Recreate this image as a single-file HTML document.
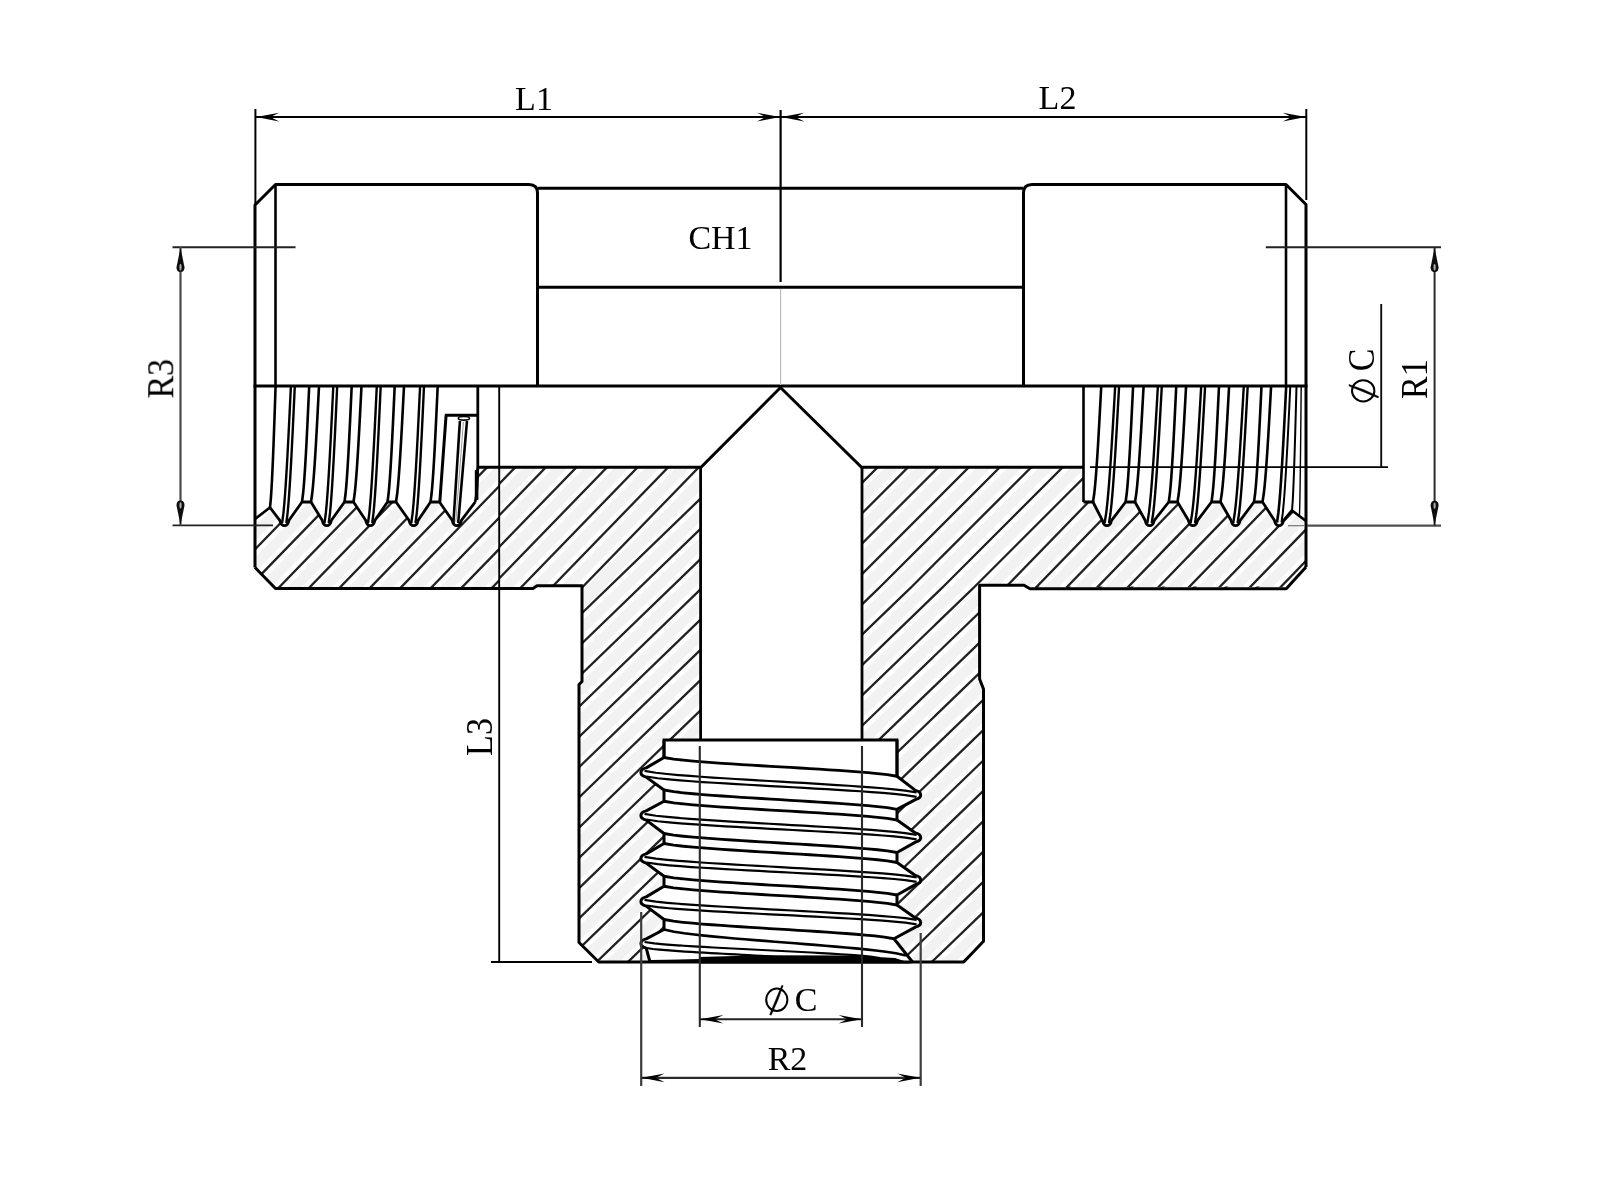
<!DOCTYPE html>
<html><head><meta charset="utf-8"><title>Tee fitting drawing</title>
<style>html,body{margin:0;padding:0;background:#fff;}body{width:1600px;height:1200px;overflow:hidden;font-family:"Liberation Serif",serif;}svg{display:block;}</style>
</head><body>
<svg width="1600" height="1200" viewBox="0 0 1600 1200">
<rect width="1600" height="1200" fill="#fff"/>
<defs><filter id="soft" x="0" y="0" width="1600" height="1200" filterUnits="userSpaceOnUse"><feGaussianBlur stdDeviation="0.7"/></filter></defs>
<g filter="url(#soft)">
<defs>
<clipPath id="cA"><path d="M255,519 L270,507.5 L279.8,520.3 Q281.1,525.6 284.4,525.6 Q287.7,525.6 289,520.3 L302,502 L311,502 L322.2,520.3 Q323.5,525.6 326.8,525.6 Q330.1,525.6 331.4,520.3 L344.5,502 L353.5,502 L365.7,520.3 Q367,525.6 370.3,525.6 Q373.6,525.6 374.9,520.3 L387.5,502 L396,502 L409,520.3 Q410.3,525.6 413.6,525.6 Q416.9,525.6 418.2,520.3 L430.5,502 L439.5,502 L452.2,520.3 Q453.5,525.6 456.8,525.6 Q460.1,525.6 461.4,520.3 L475.2,502 L477.4,490 L477.8,467.5 L499,467.5 L499,588.5 L275.5,588.5 L255,567.5 Z"/></clipPath>
<clipPath id="cB"><path d="M499,467.5 L701,467.5 L700.5,740 L664,740 L664,757.5 L646.2,767.9 Q640.9,769.2 640.9,772.5 Q640.9,775.8 646.2,777.1 L664,790 L664,801.25 L646.2,810.9 Q640.9,812.2 640.9,815.5 Q640.9,818.8 646.2,820.1 L664,833.5 L664,843.5 L646.2,853.9 Q640.9,855.2 640.9,858.5 Q640.9,861.8 646.2,863.1 L664,876.25 L664,886.25 L646.2,896.9 Q640.9,898.2 640.9,901.5 Q640.9,904.8 646.2,906.1 L664,919.5 L664,929.5 L646.2,938.9 Q640.9,940.2 640.9,943.5 Q640.9,946.8 646.2,948.1 L650,962 L598.75,962 L579,942.5 L579,684 L582,681.5 L582,585.5 L537,585.5 L533,588.5 L499,588.5 Z"/></clipPath>
<clipPath id="cC"><path d="M861.5,467.5 L1083.5,467.5 L1083.5,502 L1093,502 L1102.4,520.3 Q1103.7,525.6 1107,525.6 Q1110.3,525.6 1111.6,520.3 L1125.6,502 L1135,502 L1145.1,520.3 Q1146.4,525.6 1149.7,525.6 Q1153,525.6 1154.3,520.3 L1168.75,502 L1177.5,502 L1188.4,520.3 Q1189.7,525.6 1193,525.6 Q1196.3,525.6 1197.6,520.3 L1211.5,502 L1220.5,502 L1231,520.3 Q1232.3,525.6 1235.6,525.6 Q1238.9,525.6 1240.2,520.3 L1254,502 L1262.5,502 L1274.4,520.3 Q1275.7,525.6 1279,525.6 Q1282.3,525.6 1283.6,520.3 L1292,510.5 L1306,521 L1306,567 L1286.25,588.75 L1030,588.75 L1024,585 L979.4,585 L979.4,678 L983.5,689 L983.5,941.25 L963.75,962 L912.5,962 L894,938.75 L915.4,927.1 Q920.7,925.8 920.7,922.5 Q920.7,919.2 915.4,917.9 L897,905 L897,895 L915.4,884.6 Q920.7,883.3 920.7,880 Q920.7,876.7 915.4,875.4 L897,862.5 L897,852.5 L915.4,842.1 Q920.7,840.8 920.7,837.5 Q920.7,834.2 915.4,832.9 L897,820 L897,809.4 L915.4,799.6 Q920.7,798.3 920.7,795 Q920.7,791.7 915.4,790.4 L897,776.25 L897,740 L862,740 Z"/></clipPath>
</defs>
<defs><clipPath id="karm"><rect x="0" y="0" width="1600" height="587.2"/></clipPath><clipPath id="kstem"><rect x="0" y="586.4" width="1600" height="620"/></clipPath></defs>
<g clip-path="url(#cA)">
<g stroke="#f2f2f2" stroke-width="10.46">
<line x1="-513.88" y1="1200" x2="651.17" y2="0"/>
<line x1="-483.4" y1="1200" x2="681.65" y2="0"/>
<line x1="-452.91" y1="1200" x2="712.14" y2="0"/>
<line x1="-422.43" y1="1200" x2="742.62" y2="0"/>
<line x1="-391.94" y1="1200" x2="773.11" y2="0"/>
<line x1="-361.46" y1="1200" x2="803.59" y2="0"/>
<line x1="-330.97" y1="1200" x2="834.08" y2="0"/>
<line x1="-300.49" y1="1200" x2="864.56" y2="0"/>
<line x1="-270" y1="1200" x2="895.05" y2="0"/>
<line x1="-239.51" y1="1200" x2="925.53" y2="0"/>
<line x1="-209.03" y1="1200" x2="956.02" y2="0"/>
<line x1="-178.54" y1="1200" x2="986.5" y2="0"/>
<line x1="-148.06" y1="1200" x2="1016.99" y2="0"/>
<line x1="-117.57" y1="1200" x2="1047.48" y2="0"/>
<line x1="-87.09" y1="1200" x2="1077.96" y2="0"/>
<line x1="-56.6" y1="1200" x2="1108.45" y2="0"/>
<line x1="-26.12" y1="1200" x2="1138.93" y2="0"/>
<line x1="4.37" y1="1200" x2="1169.42" y2="0"/>
<line x1="34.85" y1="1200" x2="1199.9" y2="0"/>
<line x1="65.34" y1="1200" x2="1230.39" y2="0"/>
</g>
</g>
<g clip-path="url(#cB)">
<g stroke="#f2f2f2" stroke-width="10.46">
<line x1="-303.16" y1="1200" x2="861.89" y2="0"/>
<line x1="-272.57" y1="1200" x2="892.48" y2="0"/>
<line x1="-241.99" y1="1200" x2="923.06" y2="0"/>
<line x1="-211.41" y1="1200" x2="953.64" y2="0"/>
<line x1="-180.83" y1="1200" x2="984.22" y2="0"/>
<line x1="-150.24" y1="1200" x2="1014.81" y2="0"/>
<line x1="-119.66" y1="1200" x2="1045.39" y2="0"/>
<line x1="-89.08" y1="1200" x2="1075.97" y2="0"/>
<line x1="-58.5" y1="1200" x2="1106.55" y2="0"/>
<line x1="-27.91" y1="1200" x2="1137.14" y2="0"/>
<line x1="2.67" y1="1200" x2="1167.72" y2="0"/>
</g>
</g>
<g clip-path="url(#cB)">
<g stroke="#f2f2f2" stroke-width="10.46">
<line x1="-41.23" y1="1200" x2="1201.01" y2="0"/>
<line x1="-9.91" y1="1200" x2="1232.32" y2="0"/>
<line x1="21.4" y1="1200" x2="1263.64" y2="0"/>
<line x1="52.72" y1="1200" x2="1294.95" y2="0"/>
<line x1="84.03" y1="1200" x2="1326.27" y2="0"/>
<line x1="115.35" y1="1200" x2="1357.58" y2="0"/>
<line x1="146.66" y1="1200" x2="1388.9" y2="0"/>
<line x1="177.98" y1="1200" x2="1420.21" y2="0"/>
<line x1="209.29" y1="1200" x2="1451.53" y2="0"/>
<line x1="240.61" y1="1200" x2="1482.84" y2="0"/>
<line x1="271.92" y1="1200" x2="1514.16" y2="0"/>
<line x1="303.23" y1="1200" x2="1545.47" y2="0"/>
<line x1="334.55" y1="1200" x2="1576.79" y2="0"/>
<line x1="365.86" y1="1200" x2="1608.1" y2="0"/>
<line x1="397.18" y1="1200" x2="1639.42" y2="0"/>
<line x1="428.49" y1="1200" x2="1670.73" y2="0"/>
<line x1="459.81" y1="1200" x2="1702.04" y2="0"/>
<line x1="491.12" y1="1200" x2="1733.36" y2="0"/>
<line x1="522.44" y1="1200" x2="1764.67" y2="0"/>
<line x1="553.75" y1="1200" x2="1795.99" y2="0"/>
<line x1="585.07" y1="1200" x2="1827.3" y2="0"/>
<line x1="616.38" y1="1200" x2="1858.62" y2="0"/>
<line x1="647.7" y1="1200" x2="1889.93" y2="0"/>
<line x1="679.01" y1="1200" x2="1921.25" y2="0"/>
<line x1="710.33" y1="1200" x2="1952.56" y2="0"/>
<line x1="741.64" y1="1200" x2="1983.88" y2="0"/>
<line x1="772.96" y1="1200" x2="2015.19" y2="0"/>
<line x1="804.27" y1="1200" x2="2046.51" y2="0"/>
<line x1="835.58" y1="1200" x2="2077.82" y2="0"/>
<line x1="866.9" y1="1200" x2="2109.14" y2="0"/>
<line x1="898.21" y1="1200" x2="2140.45" y2="0"/>
<line x1="929.53" y1="1200" x2="2171.77" y2="0"/>
<line x1="960.84" y1="1200" x2="2203.08" y2="0"/>
<line x1="992.16" y1="1200" x2="2234.39" y2="0"/>
<line x1="1023.47" y1="1200" x2="2265.71" y2="0"/>
<line x1="1054.79" y1="1200" x2="2297.02" y2="0"/>
<line x1="1086.1" y1="1200" x2="2328.34" y2="0"/>
<line x1="1117.42" y1="1200" x2="2359.65" y2="0"/>
</g>
</g>
<g clip-path="url(#cC)" stroke="#f2f2f2" stroke-width="10.46" fill="none">
<polyline points="662.5,667.31 1029.81,300"/>
<polyline points="662.5,697.66 1060.16,300"/>
<polyline points="662.5,728.01 1090.51,300"/>
<polyline points="662.5,758.36 1120.86,300"/>
<polyline points="229.04,1200 865.31,586 1151.31,300"/>
<polyline points="260.49,1200 896.76,586 1182.76,300"/>
<polyline points="291.94,1200 928.21,586 1214.21,300"/>
<polyline points="323.39,1200 959.66,586 1245.66,300"/>
</g>
<g clip-path="url(#cC)">
<g clip-path="url(#kstem)">
<g stroke="#f2f2f2" stroke-width="10.46">
<line x1="354.84" y1="1200" x2="1598.37" y2="0"/>
<line x1="386.3" y1="1200" x2="1629.82" y2="0"/>
<line x1="417.75" y1="1200" x2="1661.27" y2="0"/>
<line x1="449.2" y1="1200" x2="1692.72" y2="0"/>
<line x1="480.65" y1="1200" x2="1724.17" y2="0"/>
<line x1="512.1" y1="1200" x2="1755.62" y2="0"/>
<line x1="543.55" y1="1200" x2="1787.07" y2="0"/>
<line x1="575" y1="1200" x2="1818.52" y2="0"/>
<line x1="606.45" y1="1200" x2="1849.97" y2="0"/>
<line x1="637.9" y1="1200" x2="1881.42" y2="0"/>
<line x1="669.35" y1="1200" x2="1912.88" y2="0"/>
<line x1="700.8" y1="1200" x2="1944.33" y2="0"/>
<line x1="732.25" y1="1200" x2="1975.78" y2="0"/>
<line x1="763.7" y1="1200" x2="2007.23" y2="0"/>
<line x1="795.16" y1="1200" x2="2038.68" y2="0"/>
<line x1="826.61" y1="1200" x2="2070.13" y2="0"/>
<line x1="858.06" y1="1200" x2="2101.58" y2="0"/>
<line x1="889.51" y1="1200" x2="2133.03" y2="0"/>
<line x1="920.96" y1="1200" x2="2164.48" y2="0"/>
<line x1="952.41" y1="1200" x2="2195.93" y2="0"/>
<line x1="983.86" y1="1200" x2="2227.38" y2="0"/>
<line x1="1015.31" y1="1200" x2="2258.83" y2="0"/>
<line x1="1046.76" y1="1200" x2="2290.28" y2="0"/>
<line x1="1078.21" y1="1200" x2="2321.74" y2="0"/>
<line x1="1109.66" y1="1200" x2="2353.19" y2="0"/>
<line x1="1141.11" y1="1200" x2="2384.64" y2="0"/>
<line x1="1172.56" y1="1200" x2="2416.09" y2="0"/>
<line x1="1204.02" y1="1200" x2="2447.54" y2="0"/>
<line x1="1235.47" y1="1200" x2="2478.99" y2="0"/>
<line x1="1266.92" y1="1200" x2="2510.44" y2="0"/>
<line x1="1298.37" y1="1200" x2="2541.89" y2="0"/>
<line x1="1329.82" y1="1200" x2="2573.34" y2="0"/>
<line x1="1361.27" y1="1200" x2="2604.79" y2="0"/>
<line x1="1392.72" y1="1200" x2="2636.24" y2="0"/>
</g>
</g>
</g>
<g clip-path="url(#cC)">
<g clip-path="url(#karm)">
<g stroke="#f2f2f2" stroke-width="10.46">
<line x1="395.51" y1="1200" x2="1560.56" y2="0"/>
<line x1="426.04" y1="1200" x2="1591.09" y2="0"/>
<line x1="456.58" y1="1200" x2="1621.63" y2="0"/>
<line x1="487.11" y1="1200" x2="1652.16" y2="0"/>
<line x1="517.65" y1="1200" x2="1682.69" y2="0"/>
<line x1="548.18" y1="1200" x2="1713.23" y2="0"/>
<line x1="578.71" y1="1200" x2="1743.76" y2="0"/>
<line x1="609.25" y1="1200" x2="1774.3" y2="0"/>
<line x1="639.78" y1="1200" x2="1804.83" y2="0"/>
<line x1="670.32" y1="1200" x2="1835.36" y2="0"/>
<line x1="700.85" y1="1200" x2="1865.9" y2="0"/>
<line x1="731.38" y1="1200" x2="1896.43" y2="0"/>
<line x1="761.92" y1="1200" x2="1926.97" y2="0"/>
<line x1="792.45" y1="1200" x2="1957.5" y2="0"/>
<line x1="822.99" y1="1200" x2="1988.03" y2="0"/>
<line x1="853.52" y1="1200" x2="2018.57" y2="0"/>
</g>
</g>
</g>
<g clip-path="url(#cC)"><g clip-path="url(#kstem)" stroke="#f2f2f2" stroke-width="10.46"><polyline fill="none" points="354.84,1200 991.11,586 1277.11,300"/></g></g>
<g clip-path="url(#cA)">
<g stroke="#202020" stroke-width="2.3">
<line x1="-498.64" y1="1200" x2="666.41" y2="0"/>
<line x1="-468.16" y1="1200" x2="696.89" y2="0"/>
<line x1="-437.67" y1="1200" x2="727.38" y2="0"/>
<line x1="-407.18" y1="1200" x2="757.86" y2="0"/>
<line x1="-376.7" y1="1200" x2="788.35" y2="0"/>
<line x1="-346.21" y1="1200" x2="818.83" y2="0"/>
<line x1="-315.73" y1="1200" x2="849.32" y2="0"/>
<line x1="-285.24" y1="1200" x2="879.81" y2="0"/>
<line x1="-254.76" y1="1200" x2="910.29" y2="0"/>
<line x1="-224.27" y1="1200" x2="940.78" y2="0"/>
<line x1="-193.79" y1="1200" x2="971.26" y2="0"/>
<line x1="-163.3" y1="1200" x2="1001.75" y2="0"/>
<line x1="-132.82" y1="1200" x2="1032.23" y2="0"/>
<line x1="-102.33" y1="1200" x2="1062.72" y2="0"/>
<line x1="-71.84" y1="1200" x2="1093.2" y2="0"/>
<line x1="-41.36" y1="1200" x2="1123.69" y2="0"/>
<line x1="-10.87" y1="1200" x2="1154.17" y2="0"/>
<line x1="19.61" y1="1200" x2="1184.66" y2="0"/>
<line x1="50.1" y1="1200" x2="1215.15" y2="0"/>
</g>
</g>
<g clip-path="url(#cB)">
<g stroke="#202020" stroke-width="2.3">
<line x1="-287.86" y1="1200" x2="877.18" y2="0"/>
<line x1="-257.28" y1="1200" x2="907.77" y2="0"/>
<line x1="-226.7" y1="1200" x2="938.35" y2="0"/>
<line x1="-196.12" y1="1200" x2="968.93" y2="0"/>
<line x1="-165.53" y1="1200" x2="999.51" y2="0"/>
<line x1="-134.95" y1="1200" x2="1030.1" y2="0"/>
<line x1="-104.37" y1="1200" x2="1060.68" y2="0"/>
<line x1="-73.79" y1="1200" x2="1091.26" y2="0"/>
<line x1="-43.2" y1="1200" x2="1121.84" y2="0"/>
<line x1="-12.62" y1="1200" x2="1152.43" y2="0"/>
</g>
</g>
<g clip-path="url(#cB)">
<g stroke="#202020" stroke-width="2.3">
<line x1="-25.57" y1="1200" x2="1216.67" y2="0"/>
<line x1="5.75" y1="1200" x2="1247.98" y2="0"/>
<line x1="37.06" y1="1200" x2="1279.3" y2="0"/>
<line x1="68.37" y1="1200" x2="1310.61" y2="0"/>
<line x1="99.69" y1="1200" x2="1341.93" y2="0"/>
<line x1="131" y1="1200" x2="1373.24" y2="0"/>
<line x1="162.32" y1="1200" x2="1404.55" y2="0"/>
<line x1="193.63" y1="1200" x2="1435.87" y2="0"/>
<line x1="224.95" y1="1200" x2="1467.18" y2="0"/>
<line x1="256.26" y1="1200" x2="1498.5" y2="0"/>
<line x1="287.58" y1="1200" x2="1529.81" y2="0"/>
<line x1="318.89" y1="1200" x2="1561.13" y2="0"/>
<line x1="350.21" y1="1200" x2="1592.44" y2="0"/>
<line x1="381.52" y1="1200" x2="1623.76" y2="0"/>
<line x1="412.84" y1="1200" x2="1655.07" y2="0"/>
<line x1="444.15" y1="1200" x2="1686.39" y2="0"/>
<line x1="475.47" y1="1200" x2="1717.7" y2="0"/>
<line x1="506.78" y1="1200" x2="1749.02" y2="0"/>
<line x1="538.1" y1="1200" x2="1780.33" y2="0"/>
<line x1="569.41" y1="1200" x2="1811.65" y2="0"/>
<line x1="600.72" y1="1200" x2="1842.96" y2="0"/>
<line x1="632.04" y1="1200" x2="1874.28" y2="0"/>
<line x1="663.35" y1="1200" x2="1905.59" y2="0"/>
<line x1="694.67" y1="1200" x2="1936.9" y2="0"/>
<line x1="725.98" y1="1200" x2="1968.22" y2="0"/>
<line x1="757.3" y1="1200" x2="1999.53" y2="0"/>
<line x1="788.61" y1="1200" x2="2030.85" y2="0"/>
<line x1="819.93" y1="1200" x2="2062.16" y2="0"/>
<line x1="851.24" y1="1200" x2="2093.48" y2="0"/>
<line x1="882.56" y1="1200" x2="2124.79" y2="0"/>
<line x1="913.87" y1="1200" x2="2156.11" y2="0"/>
<line x1="945.19" y1="1200" x2="2187.42" y2="0"/>
<line x1="976.5" y1="1200" x2="2218.74" y2="0"/>
<line x1="1007.82" y1="1200" x2="2250.05" y2="0"/>
<line x1="1039.13" y1="1200" x2="2281.37" y2="0"/>
<line x1="1070.45" y1="1200" x2="2312.68" y2="0"/>
<line x1="1101.76" y1="1200" x2="2344" y2="0"/>
</g>
</g>
<g clip-path="url(#cC)" stroke="#202020" stroke-width="2.3" fill="none">
<polyline points="662.5,682.49 1044.99,300"/>
<polyline points="662.5,712.84 1075.34,300"/>
<polyline points="662.5,743.19 1105.69,300"/>
<polyline points="662.5,773.54 1136.04,300"/>
<polyline points="244.77,1200 881.04,586 1167.04,300"/>
<polyline points="276.22,1200 912.49,586 1198.49,300"/>
<polyline points="307.67,1200 943.94,586 1229.94,300"/>
<polyline points="339.12,1200 975.39,586 1261.39,300"/>
</g>
<g clip-path="url(#cC)">
<g clip-path="url(#kstem)">
<g stroke="#202020" stroke-width="2.3">
<line x1="370.57" y1="1200" x2="1614.09" y2="0"/>
<line x1="402.02" y1="1200" x2="1645.54" y2="0"/>
<line x1="433.47" y1="1200" x2="1676.99" y2="0"/>
<line x1="464.92" y1="1200" x2="1708.45" y2="0"/>
<line x1="496.37" y1="1200" x2="1739.9" y2="0"/>
<line x1="527.82" y1="1200" x2="1771.35" y2="0"/>
<line x1="559.27" y1="1200" x2="1802.8" y2="0"/>
<line x1="590.73" y1="1200" x2="1834.25" y2="0"/>
<line x1="622.18" y1="1200" x2="1865.7" y2="0"/>
<line x1="653.63" y1="1200" x2="1897.15" y2="0"/>
<line x1="685.08" y1="1200" x2="1928.6" y2="0"/>
<line x1="716.53" y1="1200" x2="1960.05" y2="0"/>
<line x1="747.98" y1="1200" x2="1991.5" y2="0"/>
<line x1="779.43" y1="1200" x2="2022.95" y2="0"/>
<line x1="810.88" y1="1200" x2="2054.4" y2="0"/>
<line x1="842.33" y1="1200" x2="2085.85" y2="0"/>
<line x1="873.78" y1="1200" x2="2117.31" y2="0"/>
<line x1="905.23" y1="1200" x2="2148.76" y2="0"/>
<line x1="936.68" y1="1200" x2="2180.21" y2="0"/>
<line x1="968.13" y1="1200" x2="2211.66" y2="0"/>
<line x1="999.59" y1="1200" x2="2243.11" y2="0"/>
<line x1="1031.04" y1="1200" x2="2274.56" y2="0"/>
<line x1="1062.49" y1="1200" x2="2306.01" y2="0"/>
<line x1="1093.94" y1="1200" x2="2337.46" y2="0"/>
<line x1="1125.39" y1="1200" x2="2368.91" y2="0"/>
<line x1="1156.84" y1="1200" x2="2400.36" y2="0"/>
<line x1="1188.29" y1="1200" x2="2431.81" y2="0"/>
<line x1="1219.74" y1="1200" x2="2463.26" y2="0"/>
<line x1="1251.19" y1="1200" x2="2494.72" y2="0"/>
<line x1="1282.64" y1="1200" x2="2526.17" y2="0"/>
<line x1="1314.09" y1="1200" x2="2557.62" y2="0"/>
<line x1="1345.54" y1="1200" x2="2589.07" y2="0"/>
<line x1="1376.99" y1="1200" x2="2620.52" y2="0"/>
</g>
</g>
</g>
<g clip-path="url(#cC)">
<g clip-path="url(#karm)">
<g stroke="#202020" stroke-width="2.3">
<line x1="410.78" y1="1200" x2="1575.83" y2="0"/>
<line x1="441.31" y1="1200" x2="1606.36" y2="0"/>
<line x1="471.84" y1="1200" x2="1636.89" y2="0"/>
<line x1="502.38" y1="1200" x2="1667.43" y2="0"/>
<line x1="532.91" y1="1200" x2="1697.96" y2="0"/>
<line x1="563.45" y1="1200" x2="1728.5" y2="0"/>
<line x1="593.98" y1="1200" x2="1759.03" y2="0"/>
<line x1="624.51" y1="1200" x2="1789.56" y2="0"/>
<line x1="655.05" y1="1200" x2="1820.1" y2="0"/>
<line x1="685.58" y1="1200" x2="1850.63" y2="0"/>
<line x1="716.12" y1="1200" x2="1881.17" y2="0"/>
<line x1="746.65" y1="1200" x2="1911.7" y2="0"/>
<line x1="777.18" y1="1200" x2="1942.23" y2="0"/>
<line x1="807.72" y1="1200" x2="1972.77" y2="0"/>
<line x1="838.25" y1="1200" x2="2003.3" y2="0"/>
</g>
</g>
</g>
<path d="M255,567.5 L255,205 L275.5,184.5 L529,184.5 Q537.5,184.5 537.5,193 L537.5,386" fill="none" stroke="#000" stroke-width="3" stroke-linejoin="round"/>
<path d="M1306,567 L1306,204.5 L1286,184.5 L1032,184.5 Q1023.5,184.5 1023.5,193 L1023.5,386" fill="none" stroke="#000" stroke-width="3" stroke-linejoin="round"/>
<line x1="275.5" y1="184.5" x2="275.5" y2="386" stroke="#000" stroke-width="2.6" />
<line x1="1286" y1="184.5" x2="1286" y2="386" stroke="#000" stroke-width="2.6" />
<line x1="537.5" y1="188.3" x2="1023.5" y2="188.3" stroke="#000" stroke-width="3" />
<line x1="537.5" y1="287.2" x2="1023.5" y2="287.2" stroke="#000" stroke-width="3" />
<line x1="253.5" y1="386" x2="1307.5" y2="386" stroke="#000" stroke-width="3" />
<polyline points="255,567.5 275.5,588.5 533,588.5 537,585.8 582,585.8 582,681.5 579,684.5 579,942.5 598.75,962 963.75,962 983.5,941.25 983.5,689 979.6,679 979.6,585.3 1024,585.3 1030,588.75 1286.25,588.75 1306,567" fill="none" stroke="#000" stroke-width="3" stroke-linejoin="round"/>
<polyline points="477.5,467.3 701,467.3 780.5,387.5 861.5,467.3 1083.5,467.3" fill="none" stroke="#000" stroke-width="3" stroke-linejoin="miter"/>
<line x1="700.6" y1="467.3" x2="700.6" y2="740" stroke="#000" stroke-width="2.8" />
<line x1="862" y1="467.3" x2="862" y2="740" stroke="#000" stroke-width="2.8" />
<polyline points="664,757.5 664,740 897,740 897,776.25" fill="none" stroke="#000" stroke-width="2.8" stroke-linejoin="miter"/>
<path d="M255,519 L270,507.5 L279.8,520.3 Q281.1,525.6 284.4,525.6 Q287.7,525.6 289,520.3 L302,502 L311,502 L322.2,520.3 Q323.5,525.6 326.8,525.6 Q330.1,525.6 331.4,520.3 L344.5,502 L353.5,502 L365.7,520.3 Q367,525.6 370.3,525.6 Q373.6,525.6 374.9,520.3 L387.5,502 L396,502 L409,520.3 Q410.3,525.6 413.6,525.6 Q416.9,525.6 418.2,520.3 L430.5,502 L439.5,502 L452.2,520.3 Q453.5,525.6 456.8,525.6 Q460.1,525.6 461.4,520.3 L475.2,502 " fill="none" stroke="#000" stroke-width="2.8" stroke-linejoin="round"/>
<polyline points="275.6,386 275.3,394.68 275.01,403.36 274.71,412.04 274.4,420.71 274.09,429.39 273.77,438.07 273.44,446.75 273.09,455.43 272.73,464.11 272.34,472.79 271.91,481.46 271.42,490.14 270.83,498.82 270,507.5" fill="none" stroke="#000" stroke-width="2.6" />
<polyline points="290.85,387 290.39,396.71 289.93,406.43 289.46,416.14 288.98,425.86 288.5,435.57 288,445.29 287.48,455 286.94,464.71 286.37,474.43 285.75,484.14 285.08,493.86 284.32,503.57 283.4,513.29 282.1,523" fill="none" stroke="#000" stroke-width="2.4" />
<polyline points="294.75,387 294.31,396.71 293.86,406.43 293.41,416.14 292.95,425.86 292.48,435.57 291.99,445.29 291.5,455 290.97,464.71 290.42,474.43 289.83,484.14 289.18,493.86 288.45,503.57 287.56,513.29 286.3,523" fill="none" stroke="#000" stroke-width="2.4" />
<polyline points="309.15,387 308.78,395.21 308.4,403.43 308.01,411.64 307.63,419.86 307.23,428.07 306.82,436.29 306.4,444.5 305.96,452.71 305.49,460.93 304.99,469.14 304.44,477.36 303.82,485.57 303.07,493.79 302,502" fill="none" stroke="#000" stroke-width="2.6" />
<polyline points="318.95,387 318.53,395.21 318.11,403.43 317.68,411.64 317.25,419.86 316.81,428.07 316.36,436.29 315.89,444.5 315.39,452.71 314.88,460.93 314.32,469.14 313.71,477.36 313.02,485.57 312.18,493.79 311,502" fill="none" stroke="#000" stroke-width="2.6" />
<polyline points="333.25,387 332.79,396.71 332.33,406.43 331.86,416.14 331.38,425.86 330.9,435.57 330.4,445.29 329.88,455 329.34,464.71 328.77,474.43 328.15,484.14 327.48,493.86 326.72,503.57 325.8,513.29 324.5,523" fill="none" stroke="#000" stroke-width="2.4" />
<polyline points="337.15,387 336.71,396.71 336.26,406.43 335.81,416.14 335.35,425.86 334.88,435.57 334.39,445.29 333.9,455 333.37,464.71 332.82,474.43 332.23,484.14 331.58,493.86 330.85,503.57 329.96,513.29 328.7,523" fill="none" stroke="#000" stroke-width="2.4" />
<polyline points="351.65,387 351.28,395.21 350.9,403.43 350.51,411.64 350.13,419.86 349.73,428.07 349.32,436.29 348.9,444.5 348.46,452.71 347.99,460.93 347.49,469.14 346.94,477.36 346.32,485.57 345.57,493.79 344.5,502" fill="none" stroke="#000" stroke-width="2.6" />
<polyline points="361.45,387 361.03,395.21 360.61,403.43 360.18,411.64 359.75,419.86 359.31,428.07 358.86,436.29 358.39,444.5 357.89,452.71 357.38,460.93 356.82,469.14 356.21,477.36 355.52,485.57 354.68,493.79 353.5,502" fill="none" stroke="#000" stroke-width="2.6" />
<polyline points="376.75,387 376.29,396.71 375.83,406.43 375.36,416.14 374.88,425.86 374.4,435.57 373.9,445.29 373.38,455 372.84,464.71 372.27,474.43 371.65,484.14 370.98,493.86 370.22,503.57 369.3,513.29 368,523" fill="none" stroke="#000" stroke-width="2.4" />
<polyline points="380.65,387 380.21,396.71 379.76,406.43 379.31,416.14 378.85,425.86 378.38,435.57 377.89,445.29 377.4,455 376.87,464.71 376.32,474.43 375.73,484.14 375.08,493.86 374.35,503.57 373.46,513.29 372.2,523" fill="none" stroke="#000" stroke-width="2.4" />
<polyline points="394.65,387 394.28,395.21 393.9,403.43 393.51,411.64 393.13,419.86 392.73,428.07 392.32,436.29 391.9,444.5 391.46,452.71 390.99,460.93 390.49,469.14 389.94,477.36 389.32,485.57 388.57,493.79 387.5,502" fill="none" stroke="#000" stroke-width="2.6" />
<polyline points="403.95,387 403.53,395.21 403.11,403.43 402.68,411.64 402.25,419.86 401.81,428.07 401.36,436.29 400.89,444.5 400.39,452.71 399.88,460.93 399.32,469.14 398.71,477.36 398.02,485.57 397.18,493.79 396,502" fill="none" stroke="#000" stroke-width="2.6" />
<polyline points="420.05,387 419.59,396.71 419.13,406.43 418.66,416.14 418.18,425.86 417.7,435.57 417.2,445.29 416.68,455 416.14,464.71 415.57,474.43 414.95,484.14 414.28,493.86 413.52,503.57 412.6,513.29 411.3,523" fill="none" stroke="#000" stroke-width="2.4" />
<polyline points="423.95,387 423.51,396.71 423.06,406.43 422.61,416.14 422.15,425.86 421.68,435.57 421.19,445.29 420.7,455 420.17,464.71 419.62,474.43 419.03,484.14 418.38,493.86 417.65,503.57 416.76,513.29 415.5,523" fill="none" stroke="#000" stroke-width="2.4" />
<polyline points="437.65,387 437.28,395.21 436.9,403.43 436.51,411.64 436.13,419.86 435.73,428.07 435.32,436.29 434.9,444.5 434.46,452.71 433.99,460.93 433.49,469.14 432.94,477.36 432.32,485.57 431.57,493.79 430.5,502" fill="none" stroke="#000" stroke-width="2.6" />
<polyline points="439.8,502 446,416.5 446.2,415.2 477.8,415.2" fill="none" stroke="#000" stroke-width="3" stroke-linejoin="miter"/>
<line x1="477.8" y1="386" x2="477.8" y2="470" stroke="#000" stroke-width="2.8" />
<path d="M477.8,467.5 Q477.6,490 475.2,502" fill="none" stroke="#000" stroke-width="2.6"/>
<line x1="476.6" y1="470" x2="476.6" y2="500" stroke="#000" stroke-width="3.6" />
<polyline points="459.9,421 453.4,523" fill="none" stroke="#000" stroke-width="2.6" />
<polyline points="467,421 458.2,523" fill="none" stroke="#000" stroke-width="2.6" />
<polyline points="463.4,422 455.8,521.5" fill="none" stroke="#999" stroke-width="1" />
<ellipse cx="463.9" cy="418.3" rx="5.6" ry="1.8" fill="#fff" stroke="#000" stroke-width="1.6"/>
<path d="M1083.5,502 L1093,502 L1102.4,520.3 Q1103.7,525.6 1107,525.6 Q1110.3,525.6 1111.6,520.3 L1125.6,502 L1135,502 L1145.1,520.3 Q1146.4,525.6 1149.7,525.6 Q1153,525.6 1154.3,520.3 L1168.75,502 L1177.5,502 L1188.4,520.3 Q1189.7,525.6 1193,525.6 Q1196.3,525.6 1197.6,520.3 L1211.5,502 L1220.5,502 L1231,520.3 Q1232.3,525.6 1235.6,525.6 Q1238.9,525.6 1240.2,520.3 L1254,502 L1262.5,502 L1274.4,520.3 Q1275.7,525.6 1279,525.6 Q1282.3,525.6 1283.6,520.3 L1292,510.5 L1306,521 " fill="none" stroke="#000" stroke-width="2.8" stroke-linejoin="round"/>
<line x1="1083.5" y1="386" x2="1083.5" y2="502" stroke="#000" stroke-width="2.6" />
<polyline points="1101.2,387 1100.77,395.21 1100.33,403.43 1099.89,411.64 1099.45,419.86 1098.99,428.07 1098.52,436.29 1098.04,444.5 1097.53,452.71 1097,460.93 1096.42,469.14 1095.79,477.36 1095.08,485.57 1094.22,493.79 1093,502" fill="none" stroke="#000" stroke-width="2.6" />
<polyline points="1115.14,387 1114.59,396.71 1114.03,406.43 1113.46,416.14 1112.89,425.86 1112.3,435.57 1111.7,445.29 1111.08,455 1110.43,464.71 1109.74,474.43 1109,484.14 1108.19,493.86 1107.28,503.57 1106.17,513.29 1104.6,523" fill="none" stroke="#000" stroke-width="2.4" />
<polyline points="1119.05,387 1118.52,396.71 1117.98,406.43 1117.44,416.14 1116.9,425.86 1116.34,435.57 1115.77,445.29 1115.17,455 1114.55,464.71 1113.9,474.43 1113.19,484.14 1112.42,493.86 1111.55,503.57 1110.5,513.29 1109,523" fill="none" stroke="#000" stroke-width="2.4" />
<polyline points="1133.05,387 1132.66,395.21 1132.26,403.43 1131.86,411.64 1131.46,419.86 1131.05,428.07 1130.62,436.29 1130.18,444.5 1129.72,452.71 1129.23,460.93 1128.71,469.14 1128.14,477.36 1127.49,485.57 1126.71,493.79 1125.6,502" fill="none" stroke="#000" stroke-width="2.6" />
<polyline points="1143.55,387 1143.09,395.21 1142.64,403.43 1142.18,411.64 1141.72,419.86 1141.24,428.07 1140.76,436.29 1140.25,444.5 1139.72,452.71 1139.17,460.93 1138.57,469.14 1137.91,477.36 1137.17,485.57 1136.27,493.79 1135,502" fill="none" stroke="#000" stroke-width="2.6" />
<polyline points="1157.84,387 1157.29,396.71 1156.73,406.43 1156.16,416.14 1155.59,425.86 1155,435.57 1154.4,445.29 1153.78,455 1153.13,464.71 1152.44,474.43 1151.7,484.14 1150.89,493.86 1149.98,503.57 1148.87,513.29 1147.3,523" fill="none" stroke="#000" stroke-width="2.4" />
<polyline points="1161.75,387 1161.22,396.71 1160.68,406.43 1160.14,416.14 1159.6,425.86 1159.04,435.57 1158.47,445.29 1157.87,455 1157.25,464.71 1156.6,474.43 1155.89,484.14 1155.12,493.86 1154.25,503.57 1153.2,513.29 1151.7,523" fill="none" stroke="#000" stroke-width="2.4" />
<polyline points="1176.2,387 1175.81,395.21 1175.41,403.43 1175.01,411.64 1174.61,419.86 1174.2,428.07 1173.77,436.29 1173.33,444.5 1172.87,452.71 1172.38,460.93 1171.86,469.14 1171.29,477.36 1170.64,485.57 1169.86,493.79 1168.75,502" fill="none" stroke="#000" stroke-width="2.6" />
<polyline points="1186.05,387 1185.59,395.21 1185.14,403.43 1184.68,411.64 1184.22,419.86 1183.74,428.07 1183.26,436.29 1182.75,444.5 1182.22,452.71 1181.67,460.93 1181.07,469.14 1180.41,477.36 1179.67,485.57 1178.77,493.79 1177.5,502" fill="none" stroke="#000" stroke-width="2.6" />
<polyline points="1201.14,387 1200.59,396.71 1200.03,406.43 1199.46,416.14 1198.89,425.86 1198.3,435.57 1197.7,445.29 1197.08,455 1196.43,464.71 1195.74,474.43 1195,484.14 1194.19,493.86 1193.28,503.57 1192.17,513.29 1190.6,523" fill="none" stroke="#000" stroke-width="2.4" />
<polyline points="1205.05,387 1204.52,396.71 1203.98,406.43 1203.44,416.14 1202.9,425.86 1202.34,435.57 1201.77,445.29 1201.17,455 1200.55,464.71 1199.9,474.43 1199.19,484.14 1198.42,493.86 1197.55,503.57 1196.5,513.29 1195,523" fill="none" stroke="#000" stroke-width="2.4" />
<polyline points="1218.95,387 1218.56,395.21 1218.16,403.43 1217.76,411.64 1217.36,419.86 1216.95,428.07 1216.52,436.29 1216.08,444.5 1215.62,452.71 1215.13,460.93 1214.61,469.14 1214.04,477.36 1213.39,485.57 1212.61,493.79 1211.5,502" fill="none" stroke="#000" stroke-width="2.6" />
<polyline points="1229.05,387 1228.59,395.21 1228.14,403.43 1227.68,411.64 1227.22,419.86 1226.74,428.07 1226.26,436.29 1225.75,444.5 1225.22,452.71 1224.67,460.93 1224.07,469.14 1223.41,477.36 1222.67,485.57 1221.77,493.79 1220.5,502" fill="none" stroke="#000" stroke-width="2.6" />
<polyline points="1243.74,387 1243.19,396.71 1242.63,406.43 1242.06,416.14 1241.49,425.86 1240.9,435.57 1240.3,445.29 1239.68,455 1239.03,464.71 1238.34,474.43 1237.6,484.14 1236.79,493.86 1235.88,503.57 1234.77,513.29 1233.2,523" fill="none" stroke="#000" stroke-width="2.4" />
<polyline points="1247.65,387 1247.12,396.71 1246.58,406.43 1246.04,416.14 1245.5,425.86 1244.94,435.57 1244.37,445.29 1243.77,455 1243.15,464.71 1242.5,474.43 1241.79,484.14 1241.02,493.86 1240.15,503.57 1239.1,513.29 1237.6,523" fill="none" stroke="#000" stroke-width="2.4" />
<polyline points="1261.45,387 1261.06,395.21 1260.66,403.43 1260.26,411.64 1259.86,419.86 1259.45,428.07 1259.02,436.29 1258.58,444.5 1258.12,452.71 1257.63,460.93 1257.11,469.14 1256.54,477.36 1255.89,485.57 1255.11,493.79 1254,502" fill="none" stroke="#000" stroke-width="2.6" />
<polyline points="1271.05,387 1270.59,395.21 1270.14,403.43 1269.68,411.64 1269.22,419.86 1268.74,428.07 1268.26,436.29 1267.75,444.5 1267.22,452.71 1266.67,460.93 1266.07,469.14 1265.41,477.36 1264.67,485.57 1263.77,493.79 1262.5,502" fill="none" stroke="#000" stroke-width="2.6" />
<polyline points="1286.2,386 1285.71,395.75 1285.23,405.5 1284.73,415.25 1284.23,425 1283.72,434.75 1283.2,444.5 1282.65,454.25 1282.08,464 1281.48,473.75 1280.84,483.5 1280.14,493.25 1279.34,503 1278.37,512.75 1277,522.5" fill="none" stroke="#000" stroke-width="2.6" />
<polyline points="1290.25,387 1289.79,396.68 1289.33,406.36 1288.86,416.04 1288.38,425.71 1287.9,435.39 1287.4,445.07 1286.88,454.75 1286.34,464.43 1285.77,474.11 1285.15,483.79 1284.48,493.46 1283.72,503.14 1282.8,512.82 1281.5,522.5" fill="none" stroke="#000" stroke-width="2" />
<polyline points="1296.47,387 1296.24,395.82 1296,404.64 1295.76,413.46 1295.52,422.29 1295.27,431.11 1295.01,439.93 1294.75,448.75 1294.47,457.57 1294.18,466.39 1293.87,475.21 1293.52,484.04 1293.14,492.86 1292.67,501.68 1292,510.5" fill="none" stroke="#000" stroke-width="2" />
<polyline points="1301.19,387 1301.1,396.14 1301.01,405.29 1300.92,414.43 1300.83,423.57 1300.74,432.71 1300.64,441.86 1300.54,451 1300.43,460.14 1300.32,469.29 1300.21,478.43 1300.08,487.57 1299.93,496.71 1299.75,505.86 1299.5,515" fill="none" stroke="#000" stroke-width="1.4" />
<line x1="1090" y1="467.2" x2="1388" y2="467.2" stroke="#000" stroke-width="1.8" />
<path d="M664,740 L664,757.5 L646.2,767.9 Q640.9,769.2 640.9,772.5 Q640.9,775.8 646.2,777.1 L664,790 L664,801.25 L646.2,810.9 Q640.9,812.2 640.9,815.5 Q640.9,818.8 646.2,820.1 L664,833.5 L664,843.5 L646.2,853.9 Q640.9,855.2 640.9,858.5 Q640.9,861.8 646.2,863.1 L664,876.25 L664,886.25 L646.2,896.9 Q640.9,898.2 640.9,901.5 Q640.9,904.8 646.2,906.1 L664,919.5 L664,929.5 L646.2,938.9 Q640.9,940.2 640.9,943.5 Q640.9,946.8 646.2,948.1 L650,962 " fill="none" stroke="#000" stroke-width="3" stroke-linejoin="round"/>
<path d="M897,740 L897,776.25 L915.4,790.4 Q920.7,791.7 920.7,795 Q920.7,798.3 915.4,799.6 L897,809.4 L897,820 L915.4,832.9 Q920.7,834.2 920.7,837.5 Q920.7,840.8 915.4,842.1 L897,852.5 L897,862.5 L915.4,875.4 Q920.7,876.7 920.7,880 Q920.7,883.3 915.4,884.6 L897,895 L897,905 L915.4,917.9 Q920.7,919.2 920.7,922.5 Q920.7,925.8 915.4,927.1 L894,938.75 L912.5,962 " fill="none" stroke="#000" stroke-width="3" stroke-linejoin="round"/>
<polyline points="664,757.5 673.71,759.13 683.42,760.22 693.12,761.11 702.83,761.9 712.54,762.62 722.25,763.29 731.96,763.93 741.67,764.55 751.38,765.14 761.08,765.73 770.79,766.3 780.5,766.88 790.21,767.45 799.92,768.02 809.62,768.61 819.33,769.2 829.04,769.82 838.75,770.46 848.46,771.13 858.17,771.85 867.88,772.64 877.58,773.53 887.29,774.62 897,776.25" fill="none" stroke="#000" stroke-width="2.8" />
<polyline points="644.5,770.9 655.84,772.76 667.17,774.01 678.51,775.04 689.85,775.95 701.19,776.77 712.52,777.54 723.86,778.27 735.2,778.98 746.54,779.66 757.88,780.33 769.21,780.99 780.55,781.65 791.89,782.31 803.23,782.97 814.56,783.64 825.9,784.32 837.24,785.03 848.58,785.76 859.91,786.53 871.25,787.35 882.59,788.26 893.93,789.29 905.26,790.54 916.6,792.4" fill="none" stroke="#000" stroke-width="2.2" />
<polyline points="646.5,776.5 657.75,778.26 669.01,779.44 680.26,780.41 691.52,781.26 702.77,782.04 714.02,782.77 725.28,783.46 736.53,784.13 747.79,784.77 759.04,785.41 770.3,786.03 781.55,786.65 792.8,787.27 804.06,787.89 815.31,788.53 826.57,789.17 837.82,789.84 849.08,790.53 860.33,791.26 871.58,792.04 882.84,792.89 894.09,793.86 905.35,795.04 916.6,796.8" fill="none" stroke="#000" stroke-width="2.2" />
<polyline points="664,790 673.71,791.68 683.42,792.81 693.12,793.74 702.83,794.55 712.54,795.3 722.25,795.99 731.96,796.65 741.67,797.29 751.38,797.91 761.08,798.51 770.79,799.11 780.5,799.7 790.21,800.29 799.92,800.89 809.62,801.49 819.33,802.11 829.04,802.75 838.75,803.41 848.46,804.1 858.17,804.85 867.88,805.66 877.58,806.59 887.29,807.72 897,809.4" fill="none" stroke="#000" stroke-width="2.8" />
<polyline points="664,801.25 673.71,802.88 683.42,803.97 693.12,804.86 702.83,805.65 712.54,806.37 722.25,807.04 731.96,807.68 741.67,808.3 751.38,808.89 761.08,809.48 770.79,810.05 780.5,810.62 790.21,811.2 799.92,811.77 809.62,812.36 819.33,812.95 829.04,813.57 838.75,814.21 848.46,814.88 858.17,815.6 867.88,816.39 877.58,817.28 887.29,818.37 897,820" fill="none" stroke="#000" stroke-width="2.8" />
<polyline points="644.5,813.9 655.84,815.72 667.17,816.94 678.51,817.95 689.85,818.83 701.19,819.63 712.52,820.39 723.86,821.1 735.2,821.79 746.54,822.46 757.88,823.11 769.21,823.76 780.55,824.4 791.89,825.04 803.23,825.69 814.56,826.34 825.9,827.01 837.24,827.7 848.58,828.41 859.91,829.17 871.25,829.97 882.59,830.85 893.93,831.86 905.26,833.08 916.6,834.9" fill="none" stroke="#000" stroke-width="2.2" />
<polyline points="646.5,819.5 657.75,821.22 669.01,822.37 680.26,823.31 691.52,824.15 702.77,824.91 714.02,825.62 725.28,826.29 736.53,826.94 747.79,827.57 759.04,828.19 770.3,828.8 781.55,829.4 792.8,830 804.06,830.61 815.31,831.23 826.57,831.86 837.82,832.51 849.08,833.18 860.33,833.89 871.58,834.65 882.84,835.49 894.09,836.43 905.35,837.58 916.6,839.3" fill="none" stroke="#000" stroke-width="2.2" />
<polyline points="664,833.5 673.71,835.15 683.42,836.25 693.12,837.16 702.83,837.96 712.54,838.69 722.25,839.37 731.96,840.02 741.67,840.64 751.38,841.24 761.08,841.84 770.79,842.42 780.5,843 790.21,843.58 799.92,844.16 809.62,844.76 819.33,845.36 829.04,845.98 838.75,846.63 848.46,847.31 858.17,848.04 867.88,848.84 877.58,849.75 887.29,850.85 897,852.5" fill="none" stroke="#000" stroke-width="2.8" />
<polyline points="664,843.5 673.71,845.15 683.42,846.25 693.12,847.16 702.83,847.96 712.54,848.69 722.25,849.37 731.96,850.02 741.67,850.64 751.38,851.24 761.08,851.84 770.79,852.42 780.5,853 790.21,853.58 799.92,854.16 809.62,854.76 819.33,855.36 829.04,855.98 838.75,856.63 848.46,857.31 858.17,858.04 867.88,858.84 877.58,859.75 887.29,860.85 897,862.5" fill="none" stroke="#000" stroke-width="2.8" />
<polyline points="644.5,856.9 655.84,858.68 667.17,859.87 678.51,860.85 689.85,861.71 701.19,862.5 712.52,863.23 723.86,863.93 735.2,864.6 746.54,865.26 757.88,865.89 769.21,866.52 780.55,867.15 791.89,867.78 803.23,868.41 814.56,869.04 825.9,869.7 837.24,870.37 848.58,871.07 859.91,871.8 871.25,872.59 882.59,873.45 893.93,874.43 905.26,875.62 916.6,877.4" fill="none" stroke="#000" stroke-width="2.2" />
<polyline points="646.5,862.5 657.75,864.17 669.01,865.3 680.26,866.22 691.52,867.03 702.77,867.77 714.02,868.46 725.28,869.12 736.53,869.75 747.79,870.37 759.04,870.97 770.3,871.56 781.55,872.15 792.8,872.74 804.06,873.33 815.31,873.93 826.57,874.55 837.82,875.18 849.08,875.84 860.33,876.53 871.58,877.27 882.84,878.08 894.09,879 905.35,880.13 916.6,881.8" fill="none" stroke="#000" stroke-width="2.2" />
<polyline points="664,876.25 673.71,877.88 683.42,878.97 693.12,879.86 702.83,880.65 712.54,881.37 722.25,882.04 731.96,882.68 741.67,883.3 751.38,883.89 761.08,884.48 770.79,885.05 780.5,885.62 790.21,886.2 799.92,886.77 809.62,887.36 819.33,887.95 829.04,888.57 838.75,889.21 848.46,889.88 858.17,890.6 867.88,891.39 877.58,892.28 887.29,893.37 897,895" fill="none" stroke="#000" stroke-width="2.8" />
<polyline points="664,886.25 673.71,887.88 683.42,888.97 693.12,889.86 702.83,890.65 712.54,891.37 722.25,892.04 731.96,892.68 741.67,893.3 751.38,893.89 761.08,894.48 770.79,895.05 780.5,895.62 790.21,896.2 799.92,896.77 809.62,897.36 819.33,897.95 829.04,898.57 838.75,899.21 848.46,899.88 858.17,900.6 867.88,901.39 877.58,902.28 887.29,903.37 897,905" fill="none" stroke="#000" stroke-width="2.8" />
<polyline points="644.5,899.9 655.84,901.63 667.17,902.8 678.51,903.75 689.85,904.59 701.19,905.36 712.52,906.08 723.86,906.76 735.2,907.42 746.54,908.05 757.88,908.67 769.21,909.29 780.55,909.9 791.89,910.51 803.23,911.13 814.56,911.75 825.9,912.38 837.24,913.04 848.58,913.72 859.91,914.44 871.25,915.21 882.59,916.05 893.93,917 905.26,918.17 916.6,919.9" fill="none" stroke="#000" stroke-width="2.2" />
<polyline points="646.5,905.5 657.75,907.13 669.01,908.22 680.26,909.12 691.52,909.91 702.77,910.63 714.02,911.31 725.28,911.95 736.53,912.56 747.79,913.16 759.04,913.75 770.3,914.33 781.55,914.9 792.8,915.47 804.06,916.05 815.31,916.64 826.57,917.24 837.82,917.85 849.08,918.49 860.33,919.17 871.58,919.89 882.84,920.68 894.09,921.58 905.35,922.67 916.6,924.3" fill="none" stroke="#000" stroke-width="2.2" />
<polyline points="664,919.5 673.58,921.17 683.17,922.29 692.75,923.21 702.33,924.02 711.92,924.76 721.5,925.45 731.08,926.1 740.67,926.73 750.25,927.35 759.83,927.95 769.42,928.54 779,929.12 788.58,929.71 798.17,930.3 807.75,930.9 817.33,931.52 826.92,932.15 836.5,932.8 846.08,933.49 855.67,934.23 865.25,935.04 874.83,935.96 884.42,937.08 894,938.75" fill="none" stroke="#000" stroke-width="2.8" />
<polyline points="664,929.5 674.08,931.75 684.17,933.27 694.25,934.51 704.33,935.6 714.42,936.6 724.5,937.53 734.58,938.42 744.67,939.27 754.75,940.1 764.83,940.91 774.92,941.71 785,942.5 795.08,943.29 805.17,944.09 815.25,944.9 825.33,945.73 835.42,946.58 845.5,947.47 855.58,948.4 865.67,949.4 875.75,950.49 885.83,951.73 895.92,953.25 906,955.5" fill="none" stroke="#000" stroke-width="2.6" />
<polyline points="644.5,942 654.31,943.39 664.12,944.32 673.94,945.08 683.75,945.75 693.56,946.37 703.38,946.94 713.19,947.49 723,948.01 732.81,948.52 742.62,949.02 752.44,949.51 762.25,950 772.06,950.49 781.88,950.98 791.69,951.48 801.5,951.99 811.31,952.51 821.12,953.06 830.94,953.63 840.75,954.25 850.56,954.92 860.38,955.68 870.19,956.61 880,958" fill="none" stroke="#000" stroke-width="2.2" />
<polyline points="646.5,948 652.9,949 659.29,949.67 665.69,950.22 672.08,950.7 678.48,951.14 684.88,951.55 691.27,951.94 697.67,952.32 704.06,952.69 710.46,953.05 716.85,953.4 723.25,953.75 729.65,954.1 736.04,954.45 742.44,954.81 748.83,955.18 755.23,955.56 761.62,955.95 768.02,956.36 774.42,956.8 780.81,957.28 787.21,957.83 793.6,958.5 800,959.5" fill="none" stroke="#000" stroke-width="2.2" />
<polygon points="700,957 760,955.2 850,955.6 895,958 912,963.4 700,963.4" fill="#000"/>
<polyline points="651,961 700,960.2" fill="none" stroke="#000" stroke-width="2.2" />
<line x1="255.4" y1="109" x2="255.4" y2="204" stroke="#000" stroke-width="2" />
<line x1="1306.3" y1="109" x2="1306.3" y2="200" stroke="#000" stroke-width="2" />
<line x1="256" y1="117.1" x2="1306" y2="117.1" stroke="#000" stroke-width="2" />
<polygon points="256.2,117.1 279.2,112.8 270.46,117.1 279.2,121.4" fill="#000"/>
<polygon points="780,117.1 757,121.4 765.74,117.1 757,112.8" fill="#000"/>
<polygon points="781.2,117.1 804.2,112.8 795.46,117.1 804.2,121.4" fill="#000"/>
<polygon points="1305.8,117.1 1282.8,121.4 1291.54,117.1 1282.8,112.8" fill="#000"/>
<line x1="780.6" y1="110" x2="780.6" y2="282" stroke="#000" stroke-width="2.2" />
<line x1="780.6" y1="289" x2="780.6" y2="385" stroke="#bdbdbd" stroke-width="1.2" />
<line x1="172.5" y1="247.2" x2="295.5" y2="247.2" stroke="#222" stroke-width="1.9" />
<line x1="172.5" y1="525.4" x2="273" y2="525.4" stroke="#222" stroke-width="1.9" />
<line x1="180.5" y1="247" x2="180.5" y2="525.4" stroke="#4a4a4a" stroke-width="2.2" />
<path d="M180.5,247.6 L176.5,267.2 Q176.5,272.1 180.5,272.1 Q184.5,272.1 184.5,267.2 Z" fill="#111"/>
<ellipse cx="180.5" cy="267.2" rx="1.1" ry="3.2" fill="#aaa"/>
<path d="M180.5,525 L176.5,505.4 Q176.5,500.5 180.5,500.5 Q184.5,500.5 184.5,505.4 Z" fill="#111"/>
<ellipse cx="180.5" cy="505.4" rx="1.1" ry="3.2" fill="#aaa"/>
<line x1="1265.8" y1="247.3" x2="1441" y2="247.3" stroke="#222" stroke-width="1.9" />
<line x1="1307" y1="525.7" x2="1441" y2="525.7" stroke="#505050" stroke-width="2.3" />
<line x1="1288" y1="525.7" x2="1304" y2="525.7" stroke="#777" stroke-width="1.2" />
<line x1="1434.6" y1="247.3" x2="1434.6" y2="525.7" stroke="#2a2a2a" stroke-width="2" />
<path d="M1434.6,247.7 L1430.6,267.3 Q1430.6,272.2 1434.6,272.2 Q1438.6,272.2 1438.6,267.3 Z" fill="#111"/>
<ellipse cx="1434.6" cy="267.3" rx="1.1" ry="3.2" fill="#aaa"/>
<path d="M1434.6,525.3 L1430.6,505.7 Q1430.6,500.8 1434.6,500.8 Q1438.6,500.8 1438.6,505.7 Z" fill="#111"/>
<ellipse cx="1434.6" cy="505.7" rx="1.1" ry="3.2" fill="#aaa"/>
<line x1="1381.2" y1="304" x2="1381.2" y2="467.5" stroke="#111" stroke-width="1.9" />
<line x1="499.2" y1="387" x2="499.2" y2="962" stroke="#000" stroke-width="1.9" />
<line x1="491" y1="962" x2="592" y2="962" stroke="#000" stroke-width="1.9" />
<line x1="699.8" y1="746" x2="699.8" y2="1027" stroke="#2a2a2a" stroke-width="2.1" />
<line x1="862" y1="746" x2="862" y2="1027" stroke="#2a2a2a" stroke-width="2.1" />
<line x1="641.2" y1="912" x2="641.2" y2="1086" stroke="#3c3c3c" stroke-width="2.2" />
<line x1="920.7" y1="933" x2="920.7" y2="1086" stroke="#3c3c3c" stroke-width="2.2" />
<line x1="700" y1="1019.2" x2="862" y2="1019.2" stroke="#222" stroke-width="2" />
<polygon points="700.4,1019.2 723.4,1015 714.66,1019.2 723.4,1023.4" fill="#000"/>
<polygon points="861.6,1019.2 838.6,1023.4 847.34,1019.2 838.6,1015" fill="#000"/>
<line x1="641" y1="1077.8" x2="920.5" y2="1077.8" stroke="#2c2c2c" stroke-width="2.2" />
<polygon points="641.6,1077.8 664.6,1073.4 655.86,1077.8 664.6,1082.2" fill="#000"/>
<polygon points="920.2,1077.8 897.2,1082.2 905.94,1077.8 897.2,1073.4" fill="#000"/>
<text x="534" y="109.5" text-anchor="middle" style="font-family:'Liberation Serif',serif;font-size:34px;fill:#000">L1</text>
<text x="1057.5" y="109.2" text-anchor="middle" style="font-family:'Liberation Serif',serif;font-size:34px;fill:#000">L2</text>
<text x="720.5" y="249.3" text-anchor="middle" style="font-family:'Liberation Serif',serif;font-size:34px;fill:#000">CH1</text>
<text x="787.5" y="1070" text-anchor="middle" style="font-family:'Liberation Serif',serif;font-size:34px;fill:#000">R2</text>
<text x="806.2" y="1010.6" text-anchor="middle" style="font-family:'Liberation Serif',serif;font-size:34px;fill:#000">C</text>
<text x="0" y="0" text-anchor="middle" style="font-family:'Liberation Serif',serif;font-size:34px;fill:#000" transform="translate(173.4 378.7) scale(1.13 1) rotate(-90)">R3</text>
<text x="0" y="0" text-anchor="middle" style="font-family:'Liberation Serif',serif;font-size:34px;fill:#000" transform="translate(492 737) scale(1.13 1) rotate(-90)">L3</text>
<text x="0" y="0" text-anchor="middle" style="font-family:'Liberation Serif',serif;font-size:34px;fill:#000" transform="translate(1427.2 379.2) scale(1.13 1) rotate(-90)">R1</text>
<text x="0" y="0" text-anchor="middle" style="font-family:'Liberation Serif',serif;font-size:34px;fill:#000" transform="translate(1374 359.8) scale(1.13 1) rotate(-90)">C</text>
<ellipse cx="776.8" cy="999.8" rx="10.6" ry="11.2" fill="none" stroke="#000" stroke-width="2"/>
<polygon points="783.2,985.5 781.6,985.5 769.6,1014.6 771.2,1015.2 778,1000" fill="#000" stroke="#000" stroke-width="0.4"/>
<ellipse cx="1363.2" cy="390.8" rx="11.2" ry="10.6" fill="none" stroke="#000" stroke-width="2"/>
<polygon points="1349,384.4 1349,386 1378.1,398 1378.7,396.4 1363.5,389.6" fill="#000" stroke="#000" stroke-width="0.4"/>
</g>
</svg>
</body></html>
